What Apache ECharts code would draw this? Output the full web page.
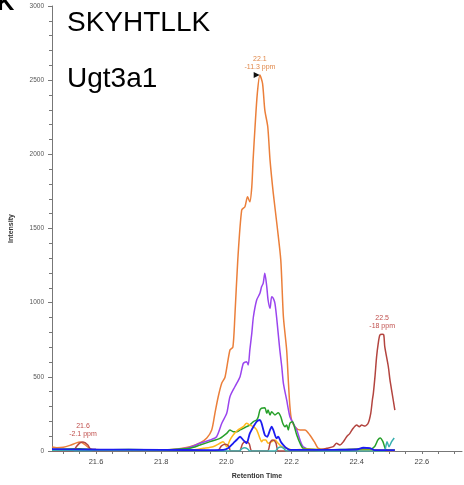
<!DOCTYPE html>
<html>
<head>
<meta charset="utf-8">
<script src="https://cdn.jsdelivr.net/npm/echarts@6/dist/echarts.min.js"></script>
<style>html,body{margin:0;padding:0;background:#fff}#c{width:464px;height:485px}</style>
</head>
<body>
<div id="c"></div>
<script>
// ---- data ----
const titleLines = ["SKYHTLLK", "Ugt3a1"];
const xLabelValues = [21.6, 21.8, 22.0, 22.2, 22.4, 22.6];
const xTickValues = [21.5,21.55,21.6,21.65,21.7,21.75,21.8,21.85,21.9,21.95,22.0,22.05,22.1,22.15,22.2,22.25,22.3,22.35,22.4,22.45,22.5,22.55,22.6,22.65,22.7];

const orange = [[21.465,27],[21.48,22],[21.50,25],[21.52,38],[21.54,55],[21.551,60],[21.565,45],[21.58,18],[21.60,10],[21.65,8],[21.70,6],[21.75,8],[21.80,8],[21.85,14],[21.888,29],[21.919,54],[21.940,88],[21.955,142],[21.965,256],[21.975,366],[21.986,458],[21.996,499],[22.011,681],[22.020,701],[22.026,903],[22.035,1287],[22.047,1624],[22.057,1647],[22.065,1714],[22.072,1680],[22.078,1781],[22.082,1961],[22.088,2186],[22.095,2411],[22.103,2534],[22.111,2478],[22.118,2298],[22.127,2186],[22.134,1961],[22.144,1737],[22.156,1512],[22.167,1287],[22.175,905],[22.185,681],[22.190,479],[22.195,299],[22.200,209],[22.210,164],[22.226,142],[22.241,142],[22.256,108],[22.272,54],[22.281,20],[22.30,10],[22.35,8],[22.40,12],[22.45,6],[22.517,5]];
const purple = [[21.465,8],[21.60,5],[21.80,6],[21.88,20],[21.919,52],[21.950,74],[21.970,96],[21.986,187],[22.001,254],[22.011,366],[22.026,433],[22.042,501],[22.052,591],[22.062,602],[22.067,580],[22.072,681],[22.078,793],[22.083,905],[22.093,1018],[22.103,1063],[22.108,1107],[22.113,1130],[22.118,1198],[22.124,1107],[22.128,1018],[22.134,962],[22.139,1040],[22.144,1029],[22.149,995],[22.154,905],[22.159,793],[22.164,681],[22.170,568],[22.175,456],[22.185,344],[22.195,231],[22.205,187],[22.216,142],[22.226,74],[22.236,29],[22.26,10],[22.35,6],[22.40,10],[22.43,22],[22.45,8],[22.517,4]];
const green = [[21.465,10],[21.55,15],[21.60,8],[21.70,10],[21.80,8],[21.85,12],[21.888,18],[21.919,40],[21.950,63],[21.980,85],[22.001,119],[22.011,142],[22.021,130],[22.032,130],[22.042,142],[22.052,153],[22.062,164],[22.072,175],[22.083,198],[22.093,209],[22.098,231],[22.103,276],[22.108,288],[22.118,292],[22.124,254],[22.128,276],[22.134,243],[22.139,265],[22.149,243],[22.159,258],[22.167,231],[22.173,187],[22.180,164],[22.185,175],[22.190,142],[22.195,187],[22.203,198],[22.210,153],[22.216,108],[22.226,52],[22.236,18],[22.30,8],[22.40,12],[22.44,10],[22.455,30],[22.465,75],[22.472,88],[22.480,65],[22.486,25],[22.49,8],[22.517,5]];
const yellow = [[21.465,5],[21.80,5],[21.90,8],[21.929,18],[21.959,29],[21.980,52],[21.990,63],[22.001,29],[22.011,74],[22.021,108],[22.036,142],[22.052,164],[22.062,187],[22.072,175],[22.083,164],[22.093,142],[22.103,85],[22.108,63],[22.113,74],[22.121,74],[22.128,52],[22.139,63],[22.149,74],[22.159,52],[22.170,29],[22.185,18],[22.20,8],[22.25,12],[22.30,8],[22.517,4]];
const brown = [[21.465,0],[21.53,0],[21.54,30],[21.551,55],[21.56,60],[21.575,40],[21.585,5],[21.60,0],[21.972,0],[21.985,35],[21.998,45],[22.008,30],[22.013,0],[22.040,0],[22.050,50],[22.060,62],[22.070,50],[22.078,0],[22.126,0],[22.135,60],[22.143,74],[22.152,55],[22.16,0],[22.26,0],[22.287,7],[22.308,18],[22.328,29],[22.338,52],[22.348,40],[22.359,63],[22.369,96],[22.379,119],[22.389,153],[22.400,175],[22.408,164],[22.415,175],[22.425,168],[22.435,187],[22.443,254],[22.448,344],[22.451,389],[22.456,501],[22.461,636],[22.466,726],[22.471,782],[22.478,787],[22.483,782],[22.486,703],[22.497,568],[22.502,479],[22.507,411],[22.517,276]];
const teal = [[21.465,3],[22.040,0],[22.047,15],[22.056,22],[22.065,15],[22.072,0],[22.150,0],[22.158,20],[22.167,27],[22.176,18],[22.185,0],[22.485,0],[22.489,29],[22.493,63],[22.499,29],[22.507,63],[22.515,88]];
const blue = [[21.465,12],[21.60,10],[21.80,8],[21.95,6],[21.990,7],[22.005,18],[22.021,52],[22.031,74],[22.042,96],[22.052,74],[22.062,52],[22.072,119],[22.083,164],[22.093,198],[22.103,209],[22.108,187],[22.118,108],[22.125,96],[22.134,142],[22.139,164],[22.144,142],[22.154,85],[22.159,96],[22.167,63],[22.175,40],[22.185,18],[22.195,7],[22.30,8],[22.40,10],[22.42,22],[22.44,20],[22.455,6],[22.517,6]];

const peakOrange = {coord:[22.103,2534], text:"22.1\n-11.3 ppm"};
const peakBrown1 = {coord:[21.56,60], text:"21.6\n-2.1 ppm"};
const peakBrown2 = {coord:[22.478,787], text:"22.5\n-18 ppm"};

const chart = echarts.init(document.getElementById('c'), null, {renderer:'canvas'});
const FONT = '"Liberation Sans", Arial, sans-serif';

function line(name, data, color, z, peaks, labelColor, width) {
  const s = {
    name, type:'line', data, showSymbol:false, symbol:'none', smooth:0.25,
    lineStyle:{color, width:width || 1.5}, itemStyle:{color}, z, silent:true, animation:false
  };
  if (peaks) {
    s.markPoint = {
      symbol:'circle', symbolSize:0, animation:false, silent:true,
      label:{show:true, position:'top', distance:4, color:labelColor, fontSize:7, lineHeight:8, fontFamily:FONT, formatter:p=>p.data.value},
      data: peaks.map(p=>({coord:p.coord, value:p.text}))
    };
  }
  return s;
}

const series = [
  line('orange', orange, '#EB7F3A', 2, [peakOrange], '#E0884A'),
  line('purple', purple, '#9A45EE', 3),
  line('green', green, '#27A02A', 4),
  line('yellow', yellow, '#FFB81C', 5),
  line('brown', brown, '#B3443F', 6, [peakBrown1, peakBrown2], '#C0504D'),
  line('teal', teal, '#3AB0B0', 7),
  line('blue', blue, '#1C1CF0', 8, null, null, 1.8)
];
// small black arrow marker left of the main peak
series[0].markPoint.data.push({coord:[22.093,2534], value:'', symbol:'triangle', symbolSize:[6,6], symbolRotate:-90, itemStyle:{color:'#111'}, label:{show:false}});

chart.setOption({
  animation:false,
  backgroundColor:'#fff',
  grid:{left:52, right:2, top:6, bottom:34, containLabel:false},
  xAxis:{
    type:'value', min:21.465, max:22.723,
    name:'Retention Time', nameLocation:'middle', nameGap:22,
    nameTextStyle:{fontSize:7, fontWeight:'bold', color:'#333', fontFamily:FONT},
    axisLine:{show:true, lineStyle:{color:'#777', width:1}},
    axisTick:{show:true, customValues:xTickValues, length:3, inside:false, lineStyle:{color:'#777'}},
    axisLabel:{customValues:xLabelValues, fontSize:7.5, color:'#444', margin:7, fontFamily:FONT, formatter:v=>v.toFixed(1)},
    splitLine:{show:false}
  },
  yAxis:{
    type:'value', min:0, max:3000, interval:500,
    name:'Intensity', nameLocation:'middle', nameGap:37, nameRotate:90,
    nameTextStyle:{fontSize:7, fontWeight:'bold', color:'#333', fontFamily:FONT},
    axisLine:{show:true, lineStyle:{color:'#777', width:1}},
    axisTick:{show:true, length:4, lineStyle:{color:'#777'}},
    minorTick:{show:true, splitNumber:5, length:3, lineStyle:{color:'#777'}},
    axisLabel:{fontSize:6.5, color:'#555', margin:8, fontFamily:FONT, formatter:v=>String(v)},
    splitLine:{show:false}
  },
  graphic:[
    {type:'text', left:67, top:9, style:{text:titleLines[0], font:'28px '+FONT, fill:'#000'}},
    {type:'text', left:67, top:65, style:{text:titleLines[1], font:'28px '+FONT, fill:'#000'}},
    {type:'text', left:-3, top:-9, style:{text:'K', font:'bold 24px '+FONT, fill:'#000'}}
  ],
  series
});
</script>
</body>
</html>
